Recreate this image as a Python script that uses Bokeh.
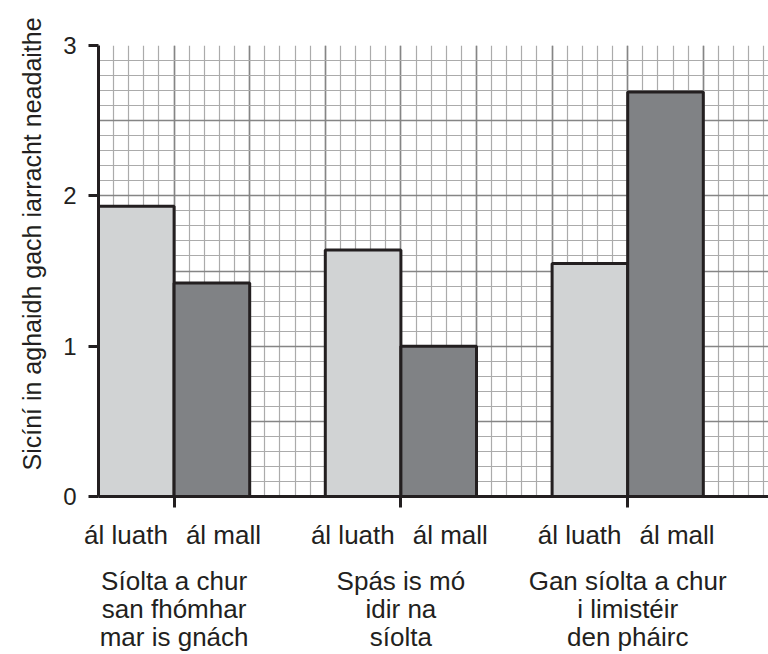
from bokeh.plotting import figure
from bokeh.models import Range1d, FixedTicker, SingleIntervalTicker, LinearAxis, Title
from bokeh.embed import file_html
from bokeh.resources import INLINE

# ---- data ----
group_line1 = ["Síolta a chur", "Spás is mó", "Gan síolta a chur"]
group_line2 = ["san fhómhar", "idir na", "i limistéir"]
group_line3 = ["mar is gnách", "síolta", "den pháirc"]
series_names = ["ál luath", "ál mall"]
early_values = [1.93, 1.64, 1.55]   # ál luath
late_values = [1.42, 1.00, 2.69]    # ál mall
y_ticks = [0, 1, 2, 3]
y_label = "Sicíní in aghaidh gach iarracht neadaithe"

FONT = "Liberation Sans"
INK = "#231f20"
LIGHT = "#d1d3d4"
DARK = "#808285"

W, H = 768, 654
LEFT, TOP, BOTTOM = 98, 45, 158
PX_X = 75.6          # px per x unit
X_END = (W - LEFT) / PX_X

p = figure(width=W, height=H, output_backend="svg", toolbar_location=None,
           x_range=Range1d(0, X_END), y_range=Range1d(0, 3),
           min_border_left=LEFT, min_border_right=0, min_border_top=TOP,
           min_border_bottom=BOTTOM)
p.outline_line_color = None
p.background_fill_color = "white"
p.border_fill_color = "white"

# grid paper
p.xgrid.ticker = SingleIntervalTicker(interval=1, num_minor_ticks=5)
p.ygrid.ticker = SingleIntervalTicker(interval=0.5, num_minor_ticks=5)
for g in (p.xgrid[0], p.ygrid[0]):
    g.grid_line_color = "#858585"
    g.grid_line_width = 1.6
    g.minor_grid_line_color = "#ababab"
    g.minor_grid_line_width = 1.2

# bars
centers = [1 + 3 * i for i in range(len(early_values))]
xs_early = [c - 0.5 for c in centers]
xs_late = [c + 0.5 for c in centers]
p.vbar(x=xs_early, top=early_values, bottom=0, width=1, fill_color=LIGHT,
       line_color=INK, line_width=3)
p.vbar(x=xs_late, top=late_values, bottom=0, width=1, fill_color=DARK,
       line_color=INK, line_width=3)

# y axis
ya = p.yaxis[0]
ya.ticker = FixedTicker(ticks=y_ticks, minor_ticks=[])
ya.axis_line_width = 3
ya.axis_line_color = INK
ya.major_tick_line_width = 3
ya.major_tick_line_color = INK
ya.major_tick_out = 10
ya.major_tick_in = 0
ya.minor_tick_line_color = None
ya.major_label_text_font = FONT
ya.major_label_text_font_size = "24px"
ya.major_label_text_color = INK
ya.major_label_standoff = 12

# y axis title, starting a little above the x axis like the reference
p.add_layout(Title(text=y_label, align="left", offset=26, standoff=30,
                   text_font=FONT, text_font_size="25px",
                   text_font_style="normal", text_color=INK), "left")

# x axis (ticks only)
xa = p.xaxis[0]
xa.ticker = FixedTicker(ticks=centers, minor_ticks=[])
xa.axis_line_width = 3
xa.axis_line_color = INK
xa.major_tick_line_width = 3
xa.major_tick_line_color = INK
xa.major_tick_out = 11
xa.major_tick_in = 0
xa.minor_tick_line_color = None
xa.major_label_overrides = {c: "" for c in centers}
xa.major_label_text_font_size = "1px"
xa.major_label_standoff = 0


def text_axis(ticks, labels, standoff):
    ax = LinearAxis(ticker=FixedTicker(ticks=ticks, minor_ticks=[]),
                    axis_line_color=None, major_tick_line_color=None,
                    minor_tick_line_color=None,
                    major_label_overrides=dict(zip(ticks, labels)),
                    major_label_text_font=FONT,
                    major_label_text_font_size="26px",
                    major_label_text_color=INK,
                    major_label_standoff=standoff)
    p.add_layout(ax, "below")
    return ax


al_ticks = [c - 0.636 for c in centers] + [c + 0.653 for c in centers]
al_labels = [series_names[0]] * len(centers) + [series_names[1]] * len(centers)
text_axis(al_ticks, al_labels, 6)
text_axis(centers, group_line1, 7)
text_axis(centers, group_line2, -11)
text_axis(centers, group_line3, -11)

open("out.html", "w").write(file_html(p, INLINE))
